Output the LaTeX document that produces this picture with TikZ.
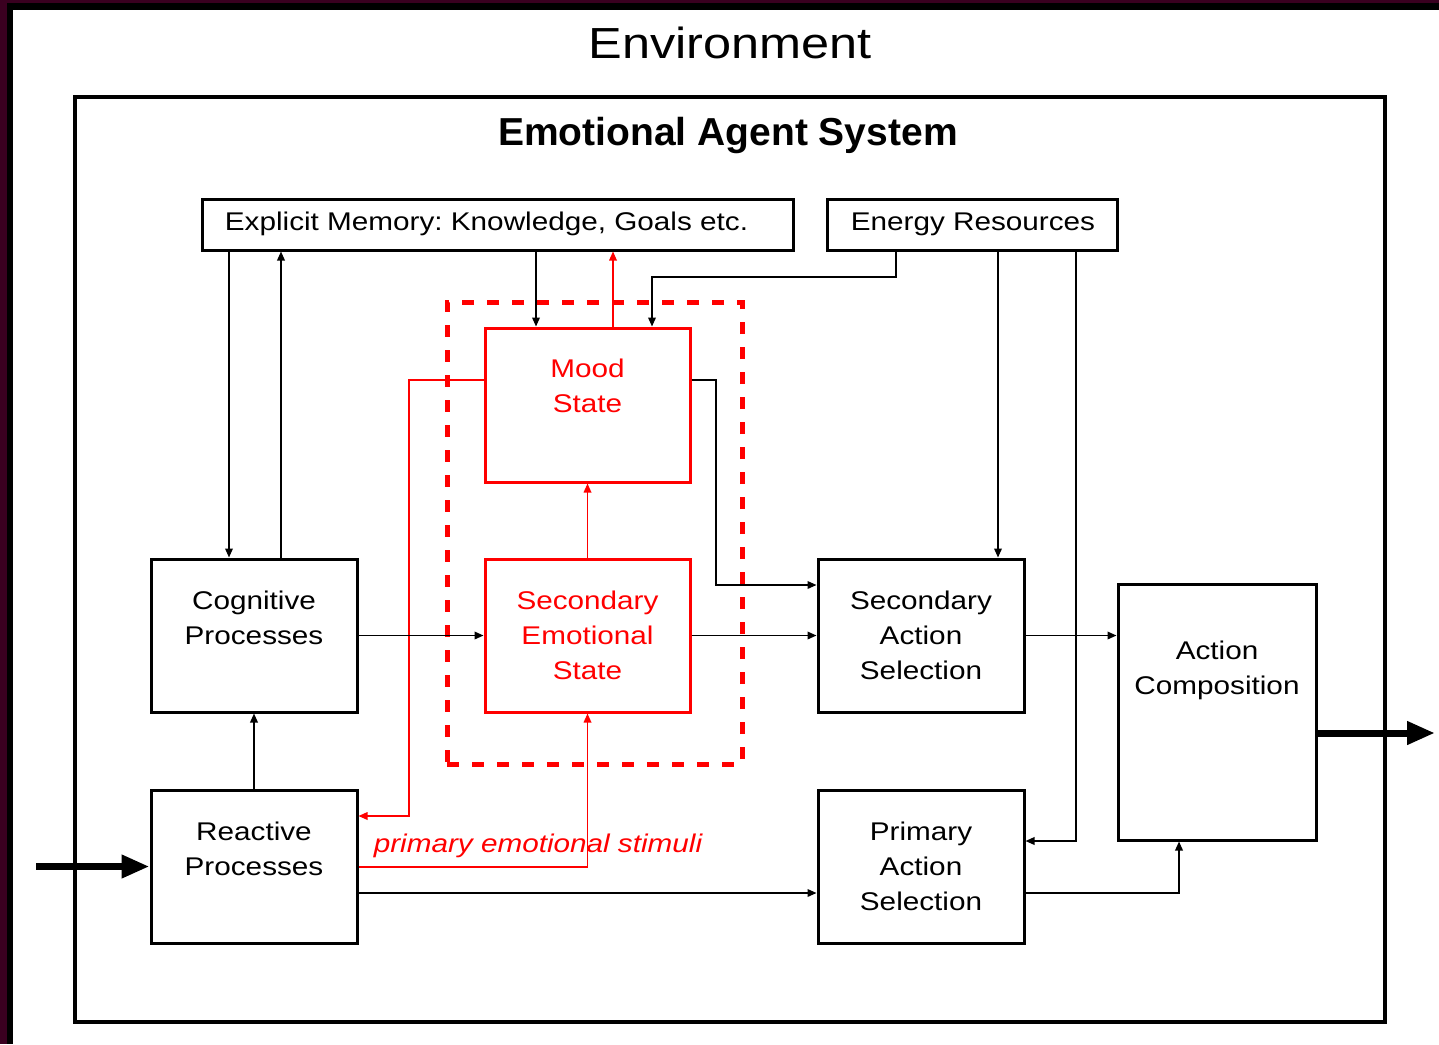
\documentclass[tikz,border=0pt]{standalone}
\usepackage{fontspec}
\setmainfont{Liberation Sans}[FakeStretch=1.16]
\newfontfamily\titlefont{Liberation Sans}
\usetikzlibrary{arrows.meta}
\definecolor{bgmaroon}{RGB}{58,0,32}
\definecolor{emred}{RGB}{255,0,0}
\frenchspacing
\begin{document}
\begin{tikzpicture}[x=0.5pt,y=-0.5pt,
  box/.style={draw=black, line width=1.5pt, inner sep=0pt, fill=white},
  redbox/.style={draw=emred, line width=1.5pt, inner sep=0pt},
  txt/.style={align=center, inner sep=0pt, font=\fontsize{12.8}{17.5}\selectfont},
  redtxt/.style={txt, text=emred},
  con/.style={draw=black, line width=0.8pt, -{Triangle[length=4.5pt,width=3.8pt]}},
  redcon/.style={draw=emred, line width=0.7pt, -{Triangle[length=4.5pt,width=3.8pt]}},
  bigarrow/.style={draw=black, line width=3.5pt, -{Triangle[length=14pt,width=11pt]}},
  smallbox/.style={box, minimum width=103pt, minimum height=76.5pt},
]
% window frame and page
\fill[bgmaroon] (0,0) rectangle (1439,1044);
\fill[black] (7,3) rectangle (1439,1044);
\fill[white] (13,10) rectangle (1439,1044);
\useasboundingbox (0,0) rectangle (1439,1044);

% titles
\node[inner sep=0pt, font=\fontsize{21.75}{26}\selectfont, anchor=base] (envt) at (730,58) {Environment};
\node[box, line width=2.3pt, fill=none, minimum width=655pt, minimum height=462.5pt] (sys) at (730,559.5) {};
\node[inner sep=0pt, font=\titlefont\bfseries\fontsize{19.5}{23}\selectfont, anchor=base] (syst) at (728,145) {Emotional Agent System};

% top boxes
\node[box, minimum width=295.5pt, minimum height=25.5pt] (em) at (497.5,224.5) {};
\node[txt, anchor=base] (emt) at (486.5,230) {Explicit Memory: Knowledge, Goals etc.};
\node[box, minimum width=145pt, minimum height=25.5pt] (er) at (972,224.5) {};
\node[txt, anchor=base] (ert) at (973,230) {Energy Resources};

% emotional core
\node[draw=emred, line width=2.5pt, dash pattern=on 6pt off 6.5pt, inner sep=0pt,
      minimum width=147.5pt, minimum height=231pt] (core) at (594.5,533) {};
\node[redbox, minimum width=102.5pt, minimum height=77pt] (mood) at (587.5,405) {};
\node[redtxt] (moodt) at (587.5,386) {Mood\\State};
\node[redbox, minimum width=102.5pt, minimum height=76.5pt] (ses) at (587.5,635.5) {};
\node[redtxt] (sest) at (587.5,635) {Secondary\\Emotional\\State};

% processes
\node[smallbox] (cog) at (254,635.5) {};
\node[txt] (cogt) at (254,617.5) {Cognitive\\Processes};
\node[smallbox] (rea) at (254,866.5) {};
\node[txt] (reat) at (254,848.5) {Reactive\\Processes};

% action selection
\node[smallbox] (sas) at (921,635.5) {};
\node[txt] (sast) at (921,635) {Secondary\\Action\\Selection};
\node[smallbox] (pas) at (921,866.5) {};
\node[txt] (past) at (921,866) {Primary\\Action\\Selection};
\node[box, minimum width=99pt, minimum height=128pt] (act) at (1217,712) {};
\node[txt] (actt) at (1217,670) {Action\\Composition};

% lanes and bend levels
\coordinate (l1) at (229,0);
\coordinate (l2) at (281,0);
\coordinate (l3) at (536,0);
\coordinate (l4) at (613,0);
\coordinate (l5) at (896,0);
\coordinate (l6) at (652,0);
\coordinate (l7) at (998,0);
\coordinate (l8) at (1076,0);
\coordinate (l9) at (409,0);
\coordinate (l10) at (716,0);
\coordinate (l11) at (1179,0);
\coordinate (h277) at (0,277);
\coordinate (h380) at (0,380);
\coordinate (h585) at (0,585);
\coordinate (h816) at (0,816);
\coordinate (h841) at (0,841);
\coordinate (h867) at (0,867);
\coordinate (h893) at (0,893);
\coordinate (in) at (36,866.5);
\coordinate (out) at (1435,733);

% memory links
\draw[con] (em.south -| l1) -- (cog.north -| l1);
\draw[con] (cog.north -| l2) -- (em.south -| l2);
\draw[con] (em.south -| l3) -- (mood.north -| l3);
\draw[redcon] (mood.north -| l4) -- (em.south -| l4);

% energy links
\draw[con] (er.south -| l5) -- (l5 |- h277) -- (l6 |- h277) -- (mood.north -| l6);
\draw[con] (er.south -| l7) -- (sas.north -| l7);
\draw[con] (er.south -| l8) -- (l8 |- h841) -- (pas.east |- h841);

% mood links
\draw[redcon] (mood.west |- h380) -- (l9 |- h380) -- (l9 |- h816) -- (rea.east |- h816);
\draw[con] (mood.east |- h380) -- (l10 |- h380) -- (l10 |- h585) -- (sas.west |- h585);
\draw[redcon] (ses.north) -- (mood.south);

% main flow
\draw[con] (cog.east) -- (ses.west);
\draw[con] (ses.east) -- (sas.west);
\draw[con] (sas.east) -- (act.west |- sas.east);
\draw[con] (rea.north) -- (cog.south);
\draw[redcon] (rea.east |- h867) -- (ses.south |- h867) -- (ses.south);
\node[inner sep=0pt, font=\fontsize{12.8}{17.5}\selectfont\itshape, text=emred, anchor=base] (pes) at (538,852) {primary emotional stimuli};
\draw[con] (rea.east |- h893) -- (pas.west |- h893);
\draw[con] (pas.east |- h893) -- (l11 |- h893) -- (act.south -| l11);

% environment input and output
\draw[bigarrow] (in) -- (rea.west);
\draw[bigarrow] (act.east |- out) -- (out);
\end{tikzpicture}
\end{document}
